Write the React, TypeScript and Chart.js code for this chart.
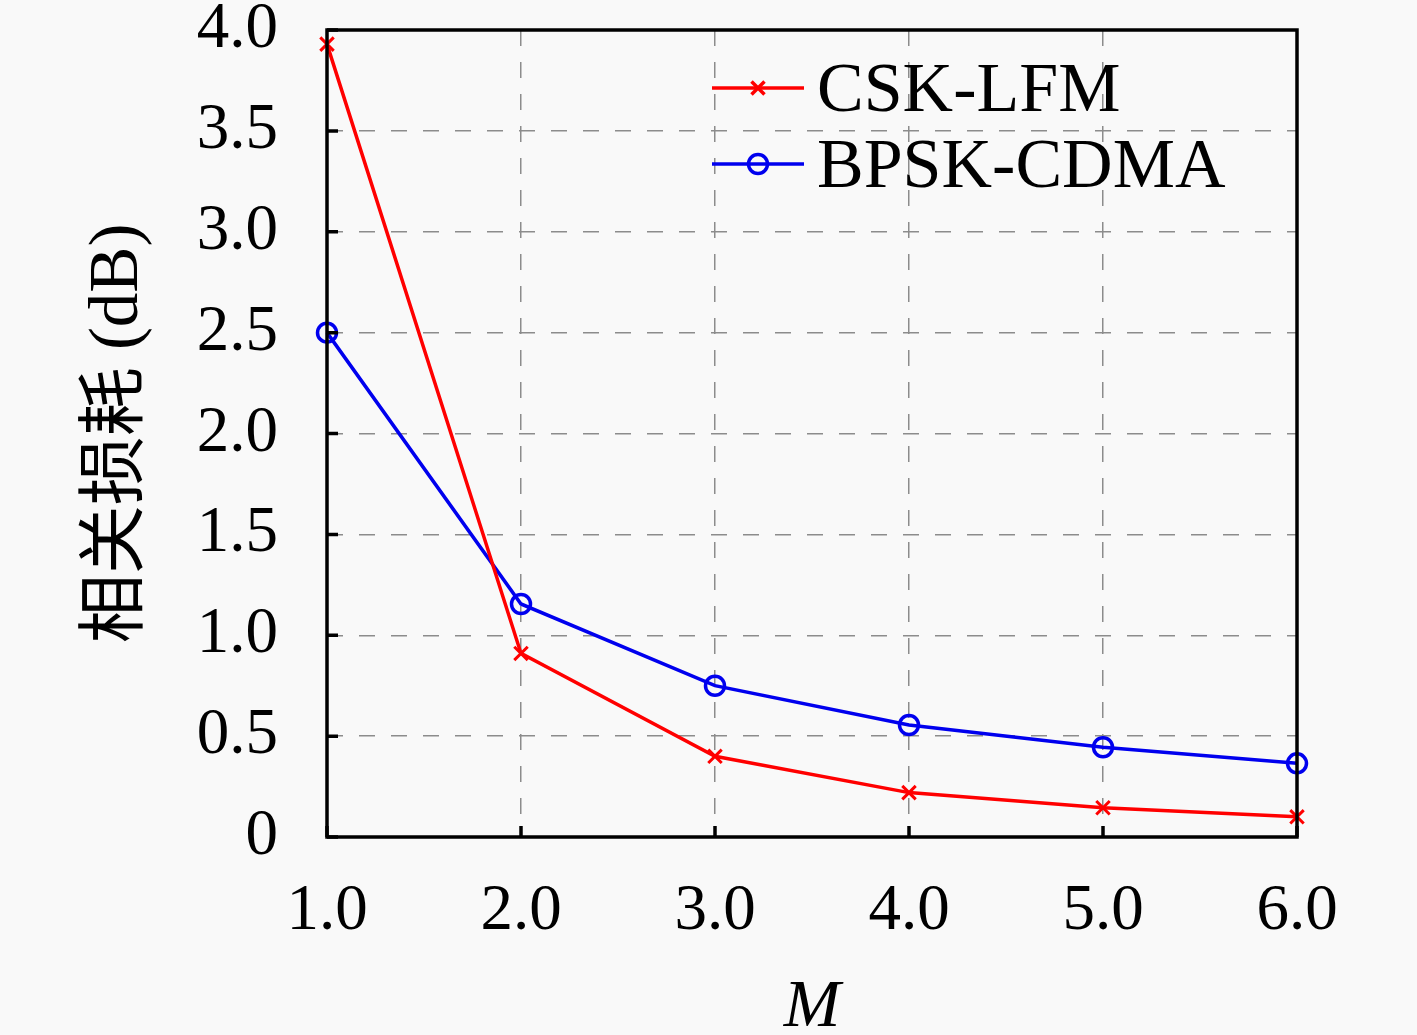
import { useEffect, useRef } from "react"
import { Chart, registerables } from "chart.js"

Chart.register(...registerables)

const mValues = [1, 2, 3, 4, 5, 6]
const cskLfm = [3.93, 0.91, 0.4, 0.22, 0.145, 0.1]
const bpskCdma = [2.5, 1.155, 0.75, 0.555, 0.445, 0.365]
const seriesNames = ["CSK-LFM", "BPSK-CDMA"]
const yTitle = "相关损耗 (dB)"
const xTitle = "M"

const SERIF = "'Liberation Serif', 'Noto Sans CJK SC', serif"
const RED = "#ff0000"
const BLUE = "#0000ee"

// background, box, inward ticks and the legend inside the plot
const framePlugin = {
  id: "frame",
  beforeDraw(chart: Chart) {
    const ctx = chart.ctx
    ctx.save()
    ctx.fillStyle = "#f9f9f9"
    ctx.fillRect(0, 0, chart.width, chart.height)
    ctx.restore()
  },
  afterDatasetsDraw(chart: Chart) {
    const ctx = chart.ctx
    const { left, right, top, bottom } = chart.chartArea
    const x = chart.scales.x
    const y = chart.scales.y
    ctx.save()
    ctx.strokeStyle = "#000"
    ctx.lineWidth = 3.5
    ctx.beginPath()
    x.ticks.forEach((t) => {
      const px = x.getPixelForValue(t.value)
      ctx.moveTo(px, bottom)
      ctx.lineTo(px, bottom - 11)
    })
    y.ticks.forEach((t) => {
      const py = y.getPixelForValue(t.value)
      ctx.moveTo(left, py)
      ctx.lineTo(left + 11, py)
    })
    ctx.stroke()
    ctx.strokeRect(left, top, right - left, bottom - top)

    // legend
    const rows = [
      { name: seriesNames[0], color: RED, y: 88, marker: "cross" },
      { name: seriesNames[1], color: BLUE, y: 164, marker: "circle" },
    ]
    ctx.font = `70px ${SERIF}`
    ctx.textBaseline = "alphabetic"
    ctx.textAlign = "left"
    rows.forEach((r) => {
      ctx.strokeStyle = r.color
      ctx.lineWidth = 3.5
      ctx.beginPath()
      ctx.moveTo(712, r.y)
      ctx.lineTo(804, r.y)
      ctx.stroke()
      const mx = 758
      ctx.beginPath()
      if (r.marker === "cross") {
        const d = 6.5
        ctx.moveTo(mx - d, r.y - d)
        ctx.lineTo(mx + d, r.y + d)
        ctx.moveTo(mx - d, r.y + d)
        ctx.lineTo(mx + d, r.y - d)
      } else {
        ctx.arc(mx, r.y, 9.5, 0, Math.PI * 2)
      }
      ctx.stroke()
      ctx.fillStyle = "#000"
      ctx.fillText(r.name, 817, r.y + 23)
    })
    ctx.restore()
  },
}

export default function App() {
  const chartRef = useRef<HTMLCanvasElement>(null)
  const chartInstance = useRef<Chart | null>(null)

  useEffect(() => {
    document.body.style.margin = "0"
    if (!chartRef.current) return
    if (chartInstance.current) chartInstance.current.destroy()
    const ctx = chartRef.current.getContext("2d")
    if (!ctx) return

    chartInstance.current = new Chart(ctx, {
      type: "line",
      data: {
        labels: mValues,
        datasets: [
          {
            label: seriesNames[0],
            data: mValues.map((m, i) => ({ x: m, y: cskLfm[i] })),
            borderColor: RED,
            backgroundColor: RED,
            borderWidth: 3.5,
            pointStyle: "crossRot",
            pointRadius: 9.5,
            pointBorderWidth: 3,
            pointBorderColor: RED,
            tension: 0,
          },
          {
            label: seriesNames[1],
            data: mValues.map((m, i) => ({ x: m, y: bpskCdma[i] })),
            borderColor: BLUE,
            backgroundColor: "rgba(0,0,0,0)",
            borderWidth: 3.5,
            pointStyle: "circle",
            pointRadius: 9.5,
            pointBorderWidth: 3.5,
            pointBorderColor: BLUE,
            pointBackgroundColor: "rgba(0,0,0,0)",
            tension: 0,
          },
        ],
      },
      options: {
        responsive: false,
        animation: false,
        devicePixelRatio: 1,
        clip: false,
        layout: { padding: { left: 0, right: 120, top: 30, bottom: 0 } },
        plugins: {
          legend: { display: false },
          tooltip: { enabled: false },
        },
        scales: {
          x: {
            type: "linear",
            min: 1,
            max: 6,
            afterFit: (s) => {
              s.height = 198
              s.paddingLeft = 0
              s.paddingRight = 0
            },
            ticks: {
              stepSize: 1,
              padding: 36,
              color: "#000",
              font: { family: SERIF, size: 65 },
              maxRotation: 0,
              callback: (v) => Number(v).toFixed(1),
            },
            grid: {
              color: "#8c8c8c",
              lineWidth: 1.5,
              drawTicks: false,
            },
            border: { display: false, dash: [16, 16] },
            title: {
              display: true,
              text: xTitle,
              color: "#000",
              font: { family: SERIF, size: 68, style: "italic", lineHeight: 0.8 },
              padding: { top: 0, bottom: 0 },
            },
          },
          y: {
            type: "linear",
            min: 0,
            max: 4,
            afterFit: (s) => {
              s.width = 327
              s.paddingTop = 0
              s.paddingBottom = 0
            },
            ticks: {
              stepSize: 0.5,
              padding: 49,
              color: "#000",
              font: { family: SERIF, size: 65 },
              callback: (v) => (Number(v) === 0 ? "0" : Number(v).toFixed(1)),
            },
            grid: {
              color: "#8c8c8c",
              lineWidth: 1.5,
              drawTicks: false,
            },
            border: { display: false, dash: [16, 16] },
            title: {
              display: true,
              text: yTitle,
              color: "#000",
              font: { family: SERIF, size: 69, lineHeight: 1.2 },
              padding: { top: 77, bottom: 0 },
            },
          },
        },
      },
      plugins: [framePlugin],
    })

    return () => {
      if (chartInstance.current) {
        chartInstance.current.destroy()
        chartInstance.current = null
      }
    }
  }, [])

  return <canvas ref={chartRef} width={1417} height={1035} style={{ display: "block" }} />
}
